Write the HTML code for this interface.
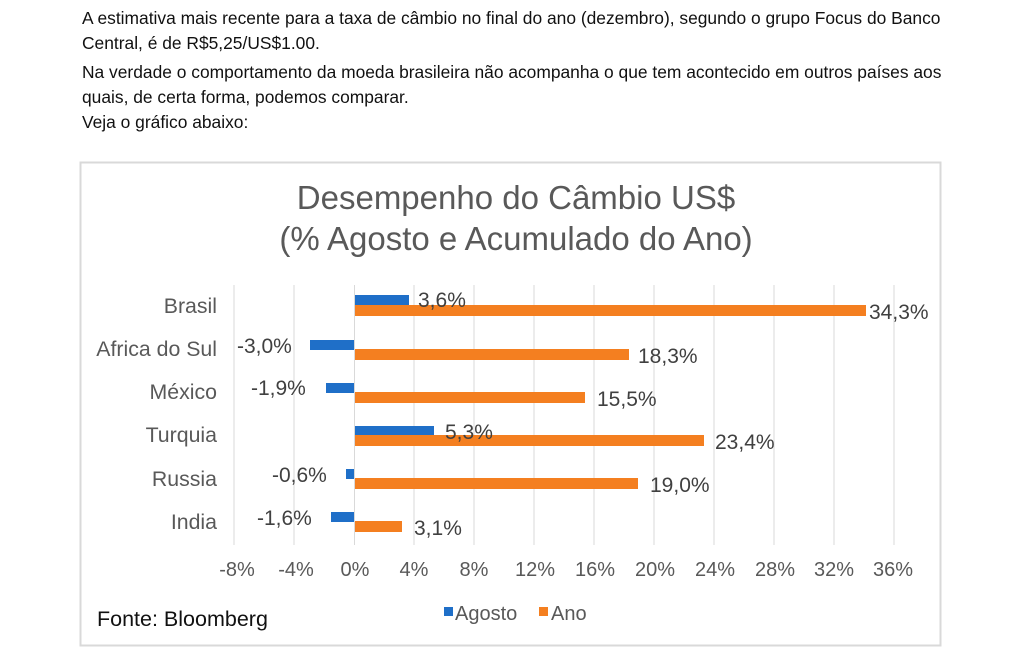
<!DOCTYPE html>
<html><head><meta charset="utf-8"><style>
body{margin:0;width:1024px;height:669px;background:#fff;overflow:hidden;font-family:"Liberation Sans",sans-serif;}
.t{position:absolute;left:82px;font-size:17.4px;color:#111;white-space:nowrap}
</style></head><body>
<div class="t" style="top:8px">A estimativa mais recente para a taxa de câmbio no final do ano (dezembro), segundo o grupo Focus do Banco</div>
<div class="t" style="top:33px">Central, é de R$5,25/US$1.00.</div>
<div class="t" style="top:62px">Na verdade o comportamento da moeda brasileira não acompanha o que tem acontecido em outros países aos</div>
<div class="t" style="top:87px">quais, de certa forma, podemos comparar.</div>
<div class="t" style="top:112px">Veja o gráfico abaixo:</div>
<svg style="position:absolute;left:0;top:0" width="1024" height="669" font-family="Liberation Sans, sans-serif">
<rect x="80.5" y="162.5" width="860" height="483" fill="#fff" stroke="#d9d9d9" stroke-width="2"/>
<text x="516" y="209" font-size="33" fill="#595959" text-anchor="middle">Desempenho do Câmbio US$</text>
<text x="516" y="250" font-size="33" fill="#595959" text-anchor="middle">(% Agosto e Acumulado do Ano)</text>
<g stroke="#d9d9d9" stroke-width="1">
<line x1="234" y1="285" x2="234" y2="545"/><line x1="294" y1="285" x2="294" y2="545"/>
<line x1="414" y1="285" x2="414" y2="545"/><line x1="474" y1="285" x2="474" y2="545"/>
<line x1="534" y1="285" x2="534" y2="545"/><line x1="594" y1="285" x2="594" y2="545"/>
<line x1="654" y1="285" x2="654" y2="545"/><line x1="714" y1="285" x2="714" y2="545"/>
<line x1="774" y1="285" x2="774" y2="545"/><line x1="834" y1="285" x2="834" y2="545"/>
<line x1="894" y1="285" x2="894" y2="545"/>
</g>
<g font-size="20" fill="#595959" text-anchor="middle">
<text x="237" y="576">-8%</text><text x="296" y="576">-4%</text><text x="355" y="576">0%</text>
<text x="414" y="576">4%</text><text x="474" y="576">8%</text><text x="535" y="576">12%</text>
<text x="595" y="576">16%</text><text x="655" y="576">20%</text><text x="715" y="576">24%</text>
<text x="775" y="576">28%</text><text x="834" y="576">32%</text><text x="893" y="576">36%</text>
</g>
<g font-size="21.3" fill="#595959" text-anchor="end">
<text x="217" y="313">Brasil</text><text x="217" y="356">Africa do Sul</text>
<text x="217" y="399">México</text><text x="217" y="442">Turquia</text>
<text x="217" y="486">Russia</text><text x="217" y="529">India</text>
</g>
<g fill="#1f6fc8">
<rect x="355" y="295" width="54" height="10"/>
<rect x="310" y="340" width="45" height="10"/>
<rect x="326" y="383" width="29" height="10"/>
<rect x="355" y="426" width="79" height="10"/>
<rect x="346" y="469" width="9" height="10"/>
<rect x="331" y="512" width="24" height="10"/>
</g>
<g fill="#f47f20">
<rect x="355" y="305" width="511" height="11"/>
<rect x="355" y="349" width="274" height="11"/>
<rect x="355" y="392" width="230" height="11"/>
<rect x="355" y="435" width="349" height="11"/>
<rect x="355" y="478" width="283" height="11"/>
<rect x="355" y="521" width="47" height="11"/>
</g>
<line x1="354.5" y1="285" x2="354.5" y2="545" stroke="#d9d9d9"/>
<g font-size="21" fill="#404040">
<text x="418" y="307">3,6%</text><text x="869" y="319">34,3%</text>
<text x="237" y="353">-3,0%</text><text x="638" y="363">18,3%</text>
<text x="251" y="395">-1,9%</text><text x="597" y="406">15,5%</text>
<text x="445" y="439">5,3%</text><text x="715" y="449">23,4%</text>
<text x="272" y="482">-0,6%</text><text x="650" y="492">19,0%</text>
<text x="257" y="525">-1,6%</text><text x="414" y="535">3,1%</text>
</g>
<rect x="444" y="607" width="9" height="9" fill="#1f6fc8"/>
<text x="455" y="620" font-size="20" fill="#595959">Agosto</text>
<rect x="539" y="607" width="9" height="9" fill="#f47f20"/>
<text x="551" y="620" font-size="20" fill="#595959">Ano</text>
<text x="97" y="626" font-size="21.5" fill="#111">Fonte: Bloomberg</text>
</svg>
</body></html>
